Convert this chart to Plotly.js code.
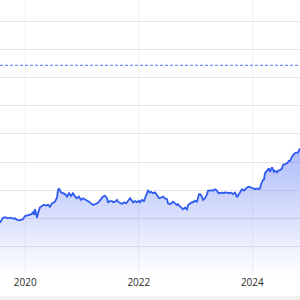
<!DOCTYPE html>
<html>
<head>
<meta charset="utf-8">
<script src="https://cdn.plot.ly/plotly-3.0.1.min.js"></script>
<style>html,body{margin:0;padding:0;background:#fff;}#chart{width:300px;height:300px;}</style>
</head>
<body>
<div id="chart"></div>
<script>
// Decimal-year positions of the price samples
const years = [2019.554,2019.584,2019.607,2019.642,2019.695,2019.730,2019.783,2019.818,2019.854,2019.906,2019.959,2019.995,
2020.047,2020.100,2020.135,2020.153,2020.171,2020.188,2020.206,2020.224,2020.259,2020.294,2020.329,2020.365,2020.400,2020.435,2020.470,2020.523,2020.558,2020.576,2020.594,2020.629,2020.664,2020.699,2020.735,2020.770,2020.805,2020.840,2020.876,2020.911,2020.946,2020.981,
2021.016,2021.052,2021.087,2021.122,2021.157,2021.193,2021.228,2021.263,2021.298,2021.334,2021.369,2021.404,2021.439,2021.457,2021.492,2021.527,2021.545,2021.580,2021.616,2021.633,2021.668,2021.704,2021.739,2021.774,2021.792,2021.827,2021.845,2021.880,2021.897,2021.933,2021.968,
2022.003,2022.021,2022.056,2022.091,2022.109,2022.144,2022.162,2022.197,2022.215,2022.250,2022.285,2022.320,2022.356,2022.391,2022.426,2022.461,2022.497,2022.514,2022.549,2022.585,2022.602,2022.638,2022.673,2022.690,2022.726,2022.761,2022.778,2022.814,2022.849,2022.867,2022.902,2022.937,2022.955,2022.990,
2023.025,2023.043,2023.060,2023.078,2023.113,2023.131,2023.166,2023.201,2023.219,2023.254,2023.289,2023.307,2023.342,2023.378,2023.395,2023.430,2023.466,2023.501,2023.519,2023.554,2023.589,2023.624,2023.659,2023.695,2023.712,2023.730,2023.765,2023.800,2023.818,2023.853,2023.888,2023.906,2023.941,2023.977,
2024.012,2024.047,2024.082,2024.100,2024.135,2024.153,2024.188,2024.206,2024.223,2024.259,2024.294,2024.311,2024.347,2024.382,2024.400,2024.435,2024.452,2024.488,2024.523,2024.541,2024.576,2024.611,2024.646,2024.664,2024.699,2024.734,2024.770,2024.805,2024.840];

const values = [18.55,19.5,20.3,20.5,20.1,20.3,20.0,20.1,19.5,19.4,19.8,20.9,
21.3,21.5,22.2,21.3,23.3,22.1,20.3,21.9,24.0,24.5,24.9,24.6,24.9,24.2,25.4,26.0,27.4,30.1,30.7,29.3,29.0,28.7,27.8,29.0,28.0,29.0,27.8,27.2,27.8,26.6,
27.2,26.8,26.6,26.0,25.4,24.8,25.1,25.4,26.0,26.8,27.8,28.1,27.2,25.8,26.2,26.2,25.8,26.0,26.6,26.0,25.6,25.2,25.8,25.4,25.8,26.6,27.2,26.3,25.8,26.2,25.8,
26.3,25.8,26.6,26.2,27.2,29.2,29.9,29.2,29.5,29.0,29.3,28.4,27.2,27.4,27.8,27.2,26.8,25.4,25.1,25.6,26.0,25.4,24.8,25.1,24.5,23.7,23.3,23.9,23.3,24.8,25.4,25.8,25.8,26.3,
26.0,27.2,28.6,28.7,27.8,26.6,27.2,28.6,29.9,29.9,30.1,29.9,30.4,29.9,29.2,29.0,29.2,29.0,29.3,29.2,29.0,29.2,28.7,29.2,28.4,27.6,28.7,30.1,30.4,29.9,30.7,31.0,31.3,31.1,
30.7,30.5,30.7,30.5,30.7,32.2,33.7,33.9,36.1,37.0,37.8,36.6,38.2,36.6,37.0,36.4,37.0,37.2,37.8,39.0,39.4,39.6,40.5,40.4,41.9,42.9,43.4,43.4,44.9];

const referenceLevel = 74.36;
const tickYears = [2020, 2022, 2024];
const tickLabels = ['2020', '2022', '2024'];

const trace = {
  x: years,
  y: values,
  type: 'scatter',
  mode: 'lines',
  line: {color: '#2f5cf0', width: 1.8},
  fill: 'tozeroy',
  fillgradient: {
    type: 'vertical',
    start: 0,
    stop: 45,
    colorscale: [[0, 'rgba(70,100,240,0.0)'], [1, 'rgba(70,100,240,0.44)']]
  },
  hoverinfo: 'skip'
};

const layout = {
  width: 300,
  height: 300,
  margin: {l: 0, r: 0, t: 0, b: 25},
  paper_bgcolor: '#ffffff',
  plot_bgcolor: '#ffffff',
  showlegend: false,
  font: {family: 'Open Sans, sans-serif', size: 10, color: '#2a2a2a'},
  xaxis: {
    range: [2019.554, 2024.840],
    tickvals: tickYears,
    ticktext: tickLabels,
    showgrid: true,
    gridcolor: '#f0f1f3',
    gridwidth: 1,
    zeroline: false,
    showline: false,
    ticks: '',
    tickfont: {size: 10, color: '#2a2a2a'},
    fixedrange: true
  },
  yaxis: {
    range: [0, 97.5],
    dtick: 10,
    showgrid: true,
    gridcolor: '#e6e6e6',
    gridwidth: 1,
    zeroline: false,
    showticklabels: false,
    ticks: '',
    fixedrange: true
  },
  shapes: [
    {type: 'line', xref: 'paper', x0: 0, x1: 1, yref: 'y', y0: referenceLevel, y1: referenceLevel,
     line: {color: '#4f74f5', width: 1, dash: '3px,2px'}},
    {type: 'rect', xref: 'paper', x0: 0, x1: 1, yref: 'paper', y0: -0.0915, y1: -0.0764,
     fillcolor: '#f1f1f2', line: {width: 0}}
  ]
};

Plotly.newPlot('chart', [trace], layout, {displayModeBar: false, staticPlot: true});
</script>
</body>
</html>
